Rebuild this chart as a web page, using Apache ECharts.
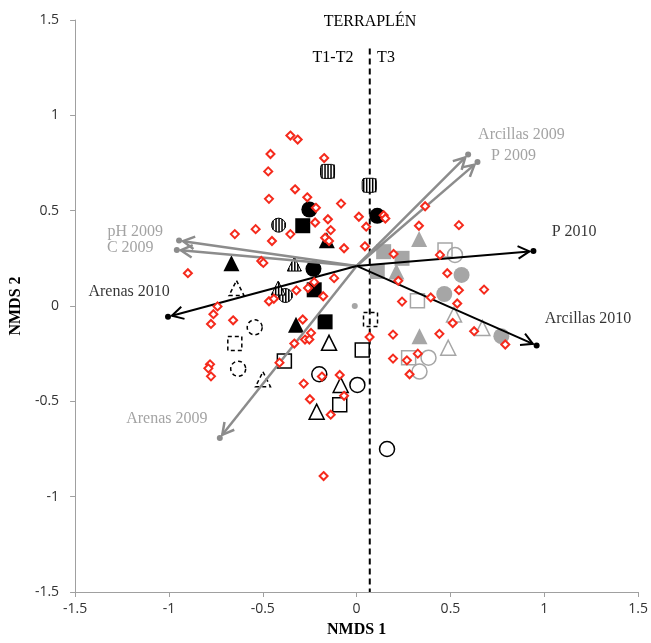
<!DOCTYPE html>
<html>
<head>
<meta charset="utf-8">
<script src="https://cdn.jsdelivr.net/npm/echarts@6/dist/echarts.min.js"></script>
<style>
html, body { margin: 0; padding: 0; background: #fff; }
#main { width: 651px; height: 643px; }
</style>
</head>
<body>
<div id="main"></div>
<script>
// species (red markers)
var redPts = [
    [-0.353, 0.894], [-0.314, 0.873], [-0.459, 0.797], [-0.173, 0.776], [-0.471, 0.706],
    [-0.328, 0.612], [-0.467, 0.562], [-0.263, 0.570], [-0.083, 0.537], [-0.217, 0.515],
    [-0.153, 0.455], [-0.221, 0.438], [0.012, 0.468], [0.144, 0.476], [0.153, 0.459],
    [0.051, 0.416], [-0.538, 0.403], [-0.649, 0.377], [-0.353, 0.377], [-0.138, 0.398],
    [-0.451, 0.341], [-0.168, 0.358], [-0.147, 0.341], [-0.067, 0.303], [0.044, 0.313],
    [-0.508, 0.236], [-0.497, 0.226], [-0.899, 0.172], [-0.120, 0.146], [-0.226, 0.125],
    [-0.321, 0.082], [-0.259, 0.094], [-0.178, 0.051], [-0.467, 0.025], [-0.441, 0.038],
    [-0.741, -0.002], [-0.763, -0.043], [0.222, 0.132], [0.197, 0.273], [0.365, 0.523],
    [0.332, 0.421], [0.545, 0.424], [0.444, 0.268], [0.483, 0.172], [0.545, 0.083],
    [0.679, 0.086], [0.242, 0.023], [0.395, 0.045], [0.536, 0.013], [0.512, -0.089],
    [0.626, -0.132], [0.792, -0.202], [0.194, -0.150], [0.441, -0.146], [0.326, -0.250],
    [0.194, -0.276], [0.268, -0.285], [0.282, -0.358], [-0.776, -0.094], [-0.658, -0.075],
    [-0.781, -0.306], [-0.790, -0.327], [-0.776, -0.369], [-0.287, -0.071], [-0.243, -0.141],
    [-0.275, -0.176], [-0.252, -0.176], [-0.332, -0.197], [-0.411, -0.297], [-0.185, -0.370],
    [-0.282, -0.407], [-0.090, -0.362], [-0.067, -0.471], [-0.249, -0.489], [-0.138, -0.570],
    [-0.176, -0.892], [0.069, -0.163]
];

// samples
var blackCircles = [[-0.252, 0.506], [0.110, 0.473], [-0.230, 0.195]];
var blackSquares = [[-0.287, 0.421], [-0.226, 0.085], [-0.168, -0.083]];
var blackTriangles = [[-0.159, 0.345], [-0.667, 0.224], [-0.323, -0.098]];
var openCircles = [[-0.199, -0.358], [0.004, -0.414], [0.162, -0.750]];
var openSquares = [[-0.385, -0.288], [-0.090, -0.518], [0.030, -0.231]];
var openTriangles = [[-0.147, -0.193], [-0.085, -0.414], [-0.213, -0.554]];
var dashCircles = [[-0.543, -0.112], [-0.631, -0.329]];
var dashSquares = [[-0.649, -0.197], [0.074, -0.071]];
var dashTriangles = [[-0.640, 0.094], [-0.499, -0.384]];
var stripeCircles = [[-0.416, 0.424], [-0.380, 0.055]];
var stripeSquares = [[-0.155, 0.706], [0.067, 0.633]];
var stripeTriangles = [[-0.332, 0.220], [-0.418, 0.094]];
var grayCircles = [[0.559, 0.163], [0.467, 0.063], [0.771, -0.158]];
var graySquares = [[0.144, 0.285], [0.242, 0.250], [0.110, 0.181]];
var grayTriangles = [[0.333, 0.351], [0.212, 0.181], [0.335, -0.158]];
var grayOpenCircles = [[0.524, 0.268], [0.383, -0.271], [0.335, -0.344]];
var grayOpenSquares = [[0.471, 0.294], [0.324, 0.028], [0.277, -0.271]];
var grayOpenTriangles = [[0.519, -0.045], [0.670, -0.115], [0.488, -0.219]];
var centroid = [[-0.010, 0.000]];

// environmental vectors
var vecOrigin = [0, 0.21];
var blackVecNames = ['Arenas 2010', 'P 2010', 'Arcillas 2010'];
var blackVecTips = [[-1.005, -0.057], [0.942, 0.288], [0.959, -0.207]];
var blackVecLabels = [[-1.212, 0.073], [1.159, 0.391], [1.233, -0.068]];
var grayVecNames = ['pH 2009', 'C 2009', 'Arcillas 2009', 'P 2009', 'Arenas 2009'];
var grayVecTips = [[-0.946, 0.343], [-0.958, 0.294], [0.594, 0.794], [0.644, 0.755], [-0.729, -0.692]];
var grayVecLabels = [[-1.180, 0.391], [-1.206, 0.303], [0.878, 0.897], [0.836, 0.788], [-1.011, -0.589]];

var divideX = 0.07;
var xTicks = [-1.5, 1.5, 0.5];
var yTicks = [-1.5, 1.5, 0.5];

var BLACK = '#000000';
var GRAY = '#a6a6a6';
var GRAY_LINE = '#8c8c8c';
var RED = '#f52a1c';
var SERIF = '"Liberation Serif", "DejaVu Serif", serif';

function pts(name, data, symbol, size, style, z) {
    style.opacity = 1;
    return {
        name: name, type: 'scatter', data: data, symbol: symbol, symbolSize: size,
        itemStyle: style, z: z || 2, silent: true
    };
}

// striped marker: outline + vertical hatching drawn inside the shape
function striped(name, data, shape) {
    return {
        name: name, type: 'custom', data: data, z: 2, silent: true,
        renderItem: function (params, api) {
            var c = api.coord([api.value(0), api.value(1)]);
            var r = 7, kids = [];
            var outline;
            if (shape === 'circle') {
                outline = { type: 'circle', shape: { cx: c[0], cy: c[1], r: r } };
            } else if (shape === 'rect') {
                outline = { type: 'rect', shape: { x: c[0] - r, y: c[1] - r, width: 2 * r, height: 2 * r, r: 3 } };
            } else {
                outline = { type: 'polygon', shape: { points: [[c[0], c[1] - r], [c[0] + r, c[1] + r], [c[0] - r, c[1] + r]] } };
            }
            outline.style = { fill: '#fff', stroke: BLACK, lineWidth: 1 };
            kids.push(outline);
            for (var dx = -r + 1.5; dx < r; dx += 3) {
                var top, bot;
                if (shape === 'circle') {
                    var h = Math.sqrt(r * r - dx * dx);
                    top = c[1] - h; bot = c[1] + h;
                } else if (shape === 'rect') {
                    top = c[1] - r; bot = c[1] + r;
                } else {
                    top = c[1] - r + 2 * Math.abs(dx); bot = c[1] + r;
                }
                kids.push({ type: 'line', shape: { x1: c[0] + dx, y1: top, x2: c[0] + dx, y2: bot },
                            style: { stroke: BLACK, lineWidth: 1.5 } });
            }
            return { type: 'group', children: kids };
        }
    };
}

function vecData(tips) {
    var out = [];
    for (var i = 0; i < tips.length; i++) {
        out.push([vecOrigin[0], vecOrigin[1], tips[i][0], tips[i][1]]);
    }
    return out;
}

function arrowRenderer(color, width) {
    return function (params, api) {
        var p0 = api.coord([api.value(0), api.value(1)]);
        var p1 = api.coord([api.value(2), api.value(3)]);
        var dx = p1[0] - p0[0], dy = p1[1] - p0[1];
        var len = Math.sqrt(dx * dx + dy * dy);
        var ux = dx / len, uy = dy / len;
        var tip = [p1[0] - ux * 4, p1[1] - uy * 4];
        var a = 0.5, L = 13, c = Math.cos(a), s = Math.sin(a);
        var w1 = [tip[0] - L * (ux * c - uy * s), tip[1] - L * (uy * c + ux * s)];
        var w2 = [tip[0] - L * (ux * c + uy * s), tip[1] - L * (uy * c - ux * s)];
        return {
            type: 'group',
            children: [
                { type: 'line', shape: { x1: p0[0], y1: p0[1], x2: tip[0], y2: tip[1] },
                  style: { stroke: color, lineWidth: width } },
                { type: 'polyline', shape: { points: [w1, tip, w2] },
                  style: { stroke: color, lineWidth: width, fill: null } }
            ]
        };
    };
}

function labelSeries(names, pos, color) {
    var d = [];
    for (var i = 0; i < names.length; i++) d.push({ name: names[i], value: pos[i] });
    return {
        type: 'scatter', data: d, symbolSize: 1, itemStyle: { color: 'rgba(0,0,0,0)' }, z: 6, silent: true,
        label: { show: true, position: 'inside', formatter: '{b}', color: color,
                 fontFamily: SERIF, fontSize: 16 }
    };
}

var chart = echarts.init(document.getElementById('main'));

var option = {
    animation: false,
    grid: { left: 73, right: 11, top: 20, bottom: 47 },
    xAxis: {
        type: 'value', min: xTicks[0], max: xTicks[1], interval: xTicks[2],
        name: 'NMDS 1', nameLocation: 'middle', nameGap: 30,
        nameTextStyle: { fontFamily: SERIF, fontWeight: 'bold', fontSize: 16, color: BLACK },
        axisLine: { onZero: false, lineStyle: { color: '#a0a0a0', width: 1 } },
        axisTick: { show: true, length: 5, lineStyle: { color: '#a0a0a0' } },
        axisLabel: { fontFamily: '"Open Sans", sans-serif', fontSize: 14, color: '#333', margin: 10 },
        splitLine: { show: false }
    },
    yAxis: {
        type: 'value', min: yTicks[0], max: yTicks[1], interval: yTicks[2],
        name: 'NMDS 2', nameLocation: 'middle', nameGap: 49, nameRotate: 90,
        nameTextStyle: { fontFamily: SERIF, fontWeight: 'bold', fontSize: 16, color: BLACK },
        axisLine: { show: true, onZero: false, lineStyle: { color: '#a0a0a0', width: 1 } },
        axisTick: { show: true, length: 5, lineStyle: { color: '#a0a0a0' } },
        axisLabel: { fontFamily: '"Open Sans", sans-serif', fontSize: 14, color: '#333', margin: 16 },
        splitLine: { show: false }
    },
    graphic: [
        { type: 'text', x: 370, y: 22, style: { text: 'TERRAPLÉN', font: '16px ' + SERIF, fill: BLACK, align: 'center', verticalAlign: 'middle' } },
        { type: 'text', x: 333, y: 58, style: { text: 'T1-T2', font: '16px ' + SERIF, fill: BLACK, align: 'center', verticalAlign: 'middle' } },
        { type: 'text', x: 386, y: 58, style: { text: 'T3', font: '16px ' + SERIF, fill: BLACK, align: 'center', verticalAlign: 'middle' } }
    ],
    series: [
        {
            type: 'line', data: [[divideX, 1.35], [divideX, -1.5]], symbol: 'none', silent: true, z: 1,
            lineStyle: { color: BLACK, width: 2, type: [6, 4] }
        },
        pts('gray filled circle', grayCircles, 'circle', 16, { color: GRAY }),
        pts('gray filled square', graySquares, 'rect', 15, { color: GRAY }),
        pts('gray filled triangle', grayTriangles, 'triangle', 16, { color: GRAY }),
        pts('gray open circle', grayOpenCircles, 'circle', 15, { color: 'rgba(0,0,0,0)', borderColor: GRAY, borderWidth: 1.5 }),
        pts('gray open square', grayOpenSquares, 'rect', 14, { color: 'rgba(0,0,0,0)', borderColor: GRAY, borderWidth: 1.5 }),
        pts('gray open triangle', grayOpenTriangles, 'triangle', 15, { color: 'rgba(0,0,0,0)', borderColor: GRAY, borderWidth: 1.5 }),
        pts('black circle', blackCircles, 'circle', 16, { color: BLACK }),
        pts('black square', blackSquares, 'rect', 15, { color: BLACK }),
        pts('black triangle', blackTriangles, 'triangle', 16, { color: BLACK }),
        pts('open circle', openCircles, 'circle', 15, { color: 'rgba(0,0,0,0)', borderColor: BLACK, borderWidth: 1.5 }),
        pts('open square', openSquares, 'rect', 14, { color: 'rgba(0,0,0,0)', borderColor: BLACK, borderWidth: 1.5 }),
        pts('open triangle', openTriangles, 'triangle', 15, { color: 'rgba(0,0,0,0)', borderColor: BLACK, borderWidth: 1.5 }),
        pts('dashed circle', dashCircles, 'circle', 15, { color: 'rgba(0,0,0,0)', borderColor: BLACK, borderWidth: 1.5, borderType: [4, 3] }),
        pts('dashed square', dashSquares, 'rect', 14, { color: 'rgba(0,0,0,0)', borderColor: BLACK, borderWidth: 1.5, borderType: [4, 3] }),
        pts('dashed triangle', dashTriangles, 'triangle', 15, { color: 'rgba(0,0,0,0)', borderColor: BLACK, borderWidth: 1.5, borderType: [4, 3] }),
        striped('striped circle', stripeCircles, 'circle'),
        striped('striped square', stripeSquares, 'rect'),
        striped('striped triangle', stripeTriangles, 'triangle'),
        pts('centroid', centroid, 'circle', 6, { color: GRAY }),
        {
            type: 'custom', data: vecData(grayVecTips), renderItem: arrowRenderer(GRAY_LINE, 2.5),
            encode: { x: [0, 2], y: [1, 3] }, z: 3, silent: true
        },
        {
            type: 'custom', data: vecData(blackVecTips), renderItem: arrowRenderer(BLACK, 2),
            encode: { x: [0, 2], y: [1, 3] }, z: 3, silent: true
        },
        pts('gray tips', grayVecTips, 'circle', 6, { color: GRAY_LINE }, 3),
        pts('black tips', blackVecTips, 'circle', 6, { color: BLACK }, 3),
        pts('species', redPts, 'diamond', 8, { color: '#fff', borderColor: RED, borderWidth: 2 }, 4),
        labelSeries(blackVecNames, blackVecLabels, BLACK),
        labelSeries(grayVecNames, grayVecLabels, GRAY_LINE)
    ]
};

chart.setOption(option);
</script>
</body>
</html>
